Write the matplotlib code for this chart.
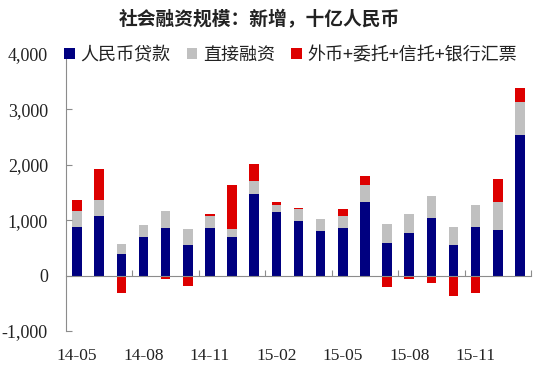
import numpy as np
import matplotlib
matplotlib.use('Agg')
import matplotlib.pyplot as plt

plt.rcParams['font.family'] = ['Liberation Serif', 'Noto Sans CJK SC']

# monthly new total social financing, bn RMB
months = ['14-05', '14-06', '14-07', '14-08', '14-09', '14-10', '14-11', '14-12',
          '15-01', '15-02', '15-03', '15-04', '15-05', '15-06', '15-07', '15-08',
          '15-09', '15-10', '15-11', '15-12', '16-01']
loans = [877, 1083, 385, 704, 866, 548, 854, 697, 1470, 1143, 993, 812, 854,
         1330, 583, 776, 1040, 560, 884, 830, 2530]
direct = [289, 282, 180, 216, 294, 289, 222, 139, 240, 132, 210, 210, 216,
          313, 349, 336, 391, 317, 398, 506, 610]
other = [194, 554, -320, 0, -55, -187, 30, 794, 305, 60, 12, 0, 127,
         156, -211, -60, -134, -368, -307, 415, 240]
yticks = [-1000, 0, 1000, 2000, 3000, 4000]

loans = np.array(loans)
direct = np.array(direct)
other = np.array(other)
x = np.arange(len(months))

fig = plt.figure(figsize=(5.4, 3.74), dpi=100)
ax = fig.add_axes([66 / 540, 1 - 331 / 374, (531 - 66) / 540, (331 - 54) / 374])

w = 0.43
ax.bar(x, loans, w, color='#000080', label='人民币贷款')
ax.bar(x, direct, w, bottom=loans, color='#C0C0C0', label='直接融资')
other_bottom = np.where(other >= 0, loans + direct, 0)
ax.bar(x, other, w, bottom=other_bottom, color='#DD0000', label='外币+委托+信托+银行汇票')

ax.set_xlim(-0.5, len(months) - 0.5)
ax.set_ylim(-1000, 4000)

# axes styling
axis_grey = '#8C8C8C'
for s in ['top', 'right']:
    ax.spines[s].set_visible(False)
ax.spines['left'].set_color(axis_grey)
ax.spines['bottom'].set_color(axis_grey)
ax.spines['bottom'].set_position(('data', 0))

ax.set_yticks(yticks, [f'{v:,}' for v in yticks])
ax.tick_params(axis='y', direction='in', length=4, color=axis_grey,
               labelsize=13, pad=13, labelcolor='#222222')
ax.set_xticks(np.arange(2.5, len(months), 3))
ax.tick_params(axis='x', direction='in', length=4, color=axis_grey, labelbottom=False)

sec = ax.secondary_xaxis('bottom')
sec.set_xticks(x[::3], months[::3])
sec.tick_params(length=0, pad=12, labelsize=12.5, labelcolor='#222222')
sec.spines['bottom'].set_visible(False)

fig.text(0.481, 1 - 20 / 374, '社会融资规模：新增，十亿人民币', ha='center', va='center',
         fontsize=13.5, fontweight='bold', family=['Noto Sans CJK SC'], color='#222222')

fig.legend(loc='center left', bbox_to_anchor=(55 / 540, 1 - 55 / 374), ncol=3,
           frameon=False, prop={'family': ['Noto Sans CJK SC'], 'size': 13},
           handlelength=0.6, handleheight=0.6, handletextpad=0.3,
           columnspacing=0.9, borderpad=0, labelcolor='#222222')

fig.savefig('out.png', dpi=100)
